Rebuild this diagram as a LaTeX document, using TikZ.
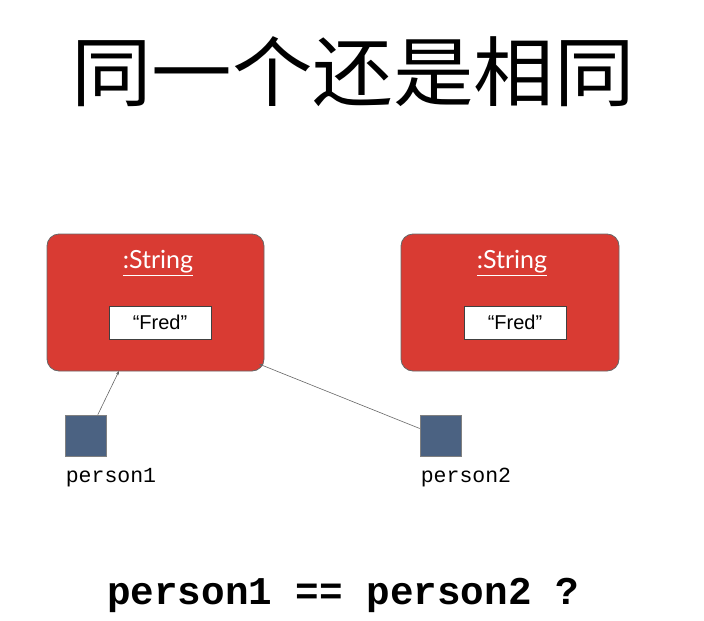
\documentclass[tikz,border=0pt]{standalone}
\usepackage{fontspec}
\setmainfont{Liberation Sans}
\newfontfamily\cjk{Noto Sans CJK SC}
\newfontfamily\monof{Liberation Mono}
\newfontfamily\sansf{Lato}
\usetikzlibrary{arrows.meta}
\definecolor{objred}{HTML}{D93B33}
\definecolor{refblue}{HTML}{4B6282}
\begin{document}
\begin{tikzpicture}[x=1pt,y=-1pt,
  objbox/.style={draw=black!60,fill=objred,rounded corners=12pt,line width=0.8pt},
  valbox/.style={draw=black!75,fill=white,line width=0.8pt,inner sep=0pt,minimum width=102pt,minimum height=33pt,font=\fontsize{20}{22}\selectfont},
  refsq/.style={draw=black!50,fill=refblue,inner sep=0pt,minimum size=41pt,line width=0.6pt},
  typelbl/.style={text=white,font=\sansf\fontsize{25}{28}\selectfont,inner sep=1pt},
  varlbl/.style={font=\monof\fontsize{21.5}{23}\selectfont},
  link/.style={draw=black!60,line width=0.6pt,-{Stealth[length=4pt,width=3pt]}}]
\useasboundingbox (0,0) rectangle (704,621);
\node[font=\cjk\fontsize{76}{80}\selectfont,xscale=1.06] (title) at (353,72) {同一个还是相同};
\node[objbox,minimum width=217pt,minimum height=137pt] (obj1) at (155.5,302.5) {};
\node[objbox,minimum width=218pt,minimum height=137pt] (obj2) at (510,302.5) {};
\node[typelbl] (t1) at (158,263) {\underline{:String}};
\node[typelbl] (t2) at (512,263) {\underline{:String}};
\node[valbox] (v1) at (160,322.5) {“Fred”};
\node[valbox] (v2) at (515,322.5) {“Fred”};
\node[refsq] (p1) at (86,435.5) {};
\node[refsq] (p2) at (440.5,435.5) {};
\node[varlbl] (l1) at (111,478) {person1};
\node[varlbl] (l2) at (466,478) {person2};
\coordinate (a1) at (119,371);
\coordinate (a2) at (259,364);
\draw[link] (p1.north east) ++(-9,0) -- (a1);
\draw[link] (p2.west) ++(0,-7) -- (a2);
\node[font=\monof\bfseries\fontsize{39.3}{41}\selectfont] (q) at (343,595) {person1 == person2 ?};
\end{tikzpicture}
\end{document}
